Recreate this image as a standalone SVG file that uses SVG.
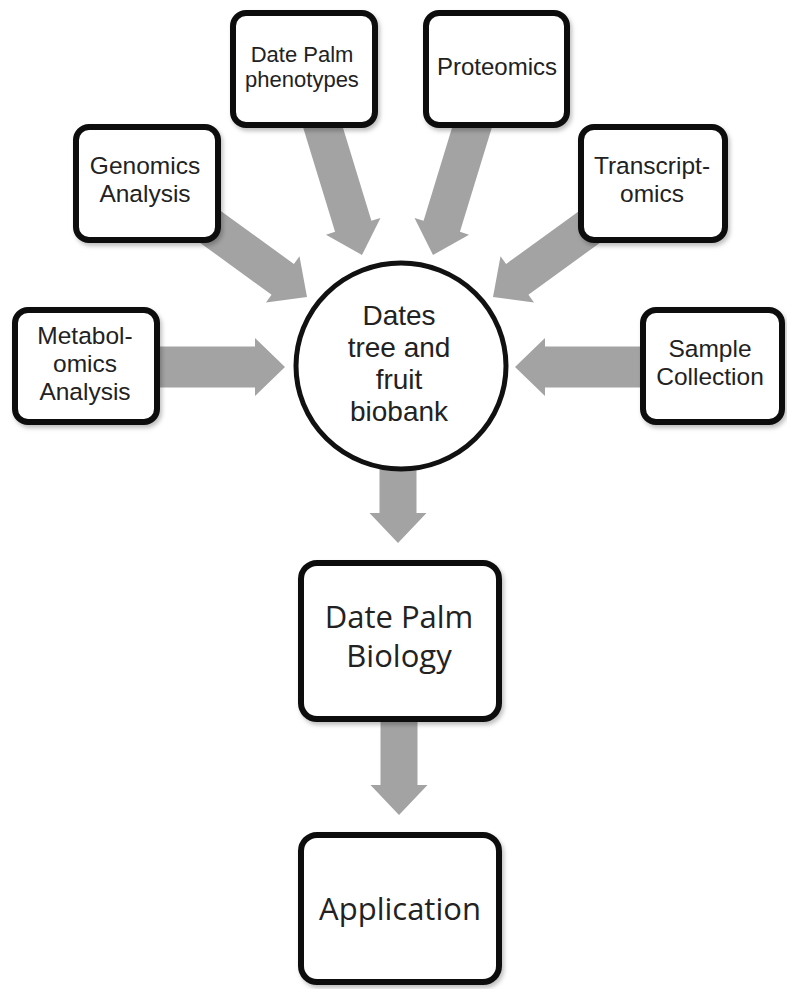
<svg xmlns="http://www.w3.org/2000/svg" width="787" height="989" viewBox="0 0 787 989">
<defs>
<style>
.box{fill:#fff;stroke:#111;stroke-width:6;filter:url(#sh)}
.arr{fill:#a3a3a3}
.t{font-family:"Liberation Sans",Arial,sans-serif;fill:#222;text-anchor:middle}
.c{font-family:"Open Sans","Noto Sans",sans-serif;fill:#222;text-anchor:middle;font-size:31px}
</style>
<filter id="sh" x="-10%" y="-10%" width="125%" height="130%">
<feDropShadow dx="2" dy="3" stdDeviation="2" flood-color="#000" flood-opacity="0.25"/>
</filter>
</defs>
<rect width="787" height="989" fill="#fff"/>
<g id="connectors">
<polygon class="arr" transform="translate(307,297) rotate(36)" points="-125,-19 -30,-19 -30,-28.5 0,0 -30,28.5 -30,19 -125,19"/>
<polygon class="arr" transform="translate(362,255) rotate(73)" points="-140,-19 -30,-19 -30,-28.5 0,0 -30,28.5 -30,19 -140,19"/>
<polygon class="arr" transform="translate(433,255) rotate(107)" points="-140,-19 -30,-19 -30,-28.5 0,0 -30,28.5 -30,19 -140,19"/>
<polygon class="arr" transform="translate(493,297) rotate(144)" points="-125,-19 -30,-19 -30,-28.5 0,0 -30,28.5 -30,19 -125,19"/>
<polygon class="arr" transform="translate(285,367) rotate(0)" points="-130,-20.5 -30,-20.5 -30,-29 0,0 -30,29 -30,20.5 -130,20.5"/>
<polygon class="arr" transform="translate(515,367) rotate(180)" points="-130,-20.5 -30,-20.5 -30,-29 0,0 -30,29 -30,20.5 -130,20.5"/>
<polygon class="arr" transform="translate(398,543) rotate(90)" points="-85,-18.5 -30,-18.5 -30,-28.5 0,0 -30,28.5 -30,18.5 -85,18.5"/>
<polygon class="arr" transform="translate(399,815) rotate(90)" points="-95,-18.5 -30,-18.5 -30,-28.5 0,0 -30,28.5 -30,18.5 -95,18.5"/>
</g>
<g id="phenotypes">
<rect class="box" x="233" y="13" width="142" height="112" rx="13"/>
<text class="t" font-size="22"><tspan x="302" y="62">Date Palm</tspan><tspan x="302" y="87">phenotypes</tspan></text>
</g>
<g id="genomics">
<rect class="box" x="76" y="127" width="142" height="113" rx="13"/>
<text class="t" font-size="24.5"><tspan x="145" y="174">Genomics</tspan><tspan x="145" y="202">Analysis</tspan></text>
</g>
<g id="proteomics">
<rect class="box" x="426" y="13" width="141" height="112" rx="13"/>
<text class="t" font-size="24"><tspan x="497" y="75">Proteomics</tspan></text>
</g>
<g id="transcriptomics">
<rect class="box" x="581" y="127" width="144" height="113" rx="13"/>
<text class="t" font-size="24.5"><tspan x="652" y="174">Transcript-</tspan><tspan x="652" y="202">omics</tspan></text>
</g>
<g id="metabolomics">
<rect class="box" x="15" y="310" width="142" height="112" rx="13"/>
<text class="t" font-size="24.5"><tspan x="85" y="344">Metabol-</tspan><tspan x="85" y="372">omics</tspan><tspan x="85" y="400">Analysis</tspan></text>
</g>
<g id="sample">
<rect class="box" x="643" y="310" width="139" height="112" rx="13"/>
<text class="t" font-size="24.5"><tspan x="710" y="357">Sample</tspan><tspan x="710" y="385">Collection</tspan></text>
</g>
<g id="biobank">
<ellipse cx="401" cy="366" rx="105" ry="103" fill="#fff" stroke="#111" stroke-width="5"/>
<text class="t" font-size="28"><tspan x="399" y="325">Dates</tspan><tspan x="399" y="357">tree and</tspan><tspan x="399" y="389">fruit</tspan><tspan x="399" y="421">biobank</tspan></text>
</g>
<g id="biology">
<rect class="box" x="301" y="563" width="198" height="156" rx="16"/>
<text class="c"><tspan x="399" y="628">Date Palm</tspan><tspan x="399" y="667">Biology</tspan></text>
</g>
<g id="application">
<rect class="box" x="301" y="835" width="198" height="147" rx="16"/>
<text class="c"><tspan x="400" y="920">Application</tspan></text>
</g>
</svg>
